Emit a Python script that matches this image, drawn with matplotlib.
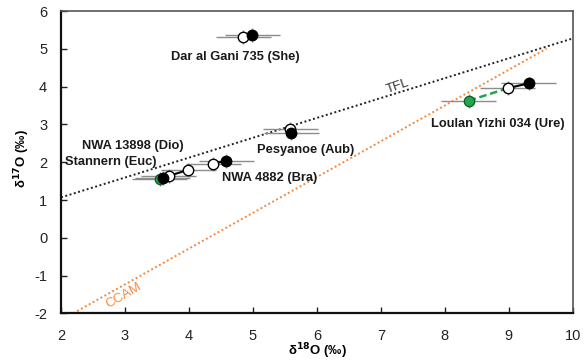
import matplotlib
matplotlib.use("Agg")
import matplotlib.pyplot as plt
import numpy as np

plt.rcParams['font.family'] = ['Liberation Sans', 'DejaVu Sans']
plt.rcParams['axes.unicode_minus'] = False

# Reference lines (endpoints)
tfl_x = [2.0, 10.0]
tfl_y = [1.07, 5.28]
ccam_x = [2.19, 9.59]
ccam_y = [-2.0, 5.01]

# Open circles
open_x = [4.85, 5.58, 3.68, 3.99, 4.38, 8.98]
open_y = [5.31, 2.88, 1.64, 1.80, 1.96, 3.96]
# Filled black circles
fill_x = [4.99, 5.60, 3.59, 4.58, 9.31]
fill_y = [5.37, 2.77, 1.59, 2.04, 4.09]
# Green circles
green_x = [3.54, 8.37]
green_y = [1.56, 3.63]

xerr = 0.43
yerr = 0.18

# connecting segments (solid black)
solid_x0 = [3.59, 4.38, 8.98]
solid_y0 = [1.59, 1.96, 3.96]
solid_x1 = [3.99, 4.58, 9.31]
solid_y1 = [1.80, 2.04, 4.09]
# dashed green segment
dash_x = [8.37, 8.98]
dash_y = [3.63, 3.96]

labels = ["Dar al Gani 735 (She)", "NWA 13898 (Dio)", "Stannern (Euc)",
          "Pesyanoe (Aub)", "NWA 4882 (Bra)", "Loulan Yizhi 034 (Ure)"]
label_x = [4.72, 3.125, 2.06, 5.06, 4.52, 7.78]
label_y = [4.79, 2.43, 2.01, 2.33, 1.58, 3.01]
label_ha = ["center", "center", "left", "left", "left", "left"]

fig = plt.figure(figsize=(5.84, 3.61), dpi=100)
ax = fig.add_axes([0.1045, 0.132, 0.8765, 0.837])

ax.plot(tfl_x, tfl_y, ls=(0, (1, 1.3)), color='#222222', lw=1.4, zorder=1)
ax.plot(ccam_x, ccam_y, ls=(0, (1, 1.3)), color='#f4893c', lw=1.4, zorder=1)

ecol = '#8c8c8c'
for xs, ys in [(open_x, open_y), (fill_x, fill_y), (green_x, green_y)]:
    ax.errorbar(xs, ys, xerr=xerr, yerr=yerr, fmt='none', ecolor=ecol,
                elinewidth=1.0, capsize=0, zorder=2)

for x0, y0, x1, y1 in zip(solid_x0, solid_y0, solid_x1, solid_y1):
    ax.plot([x0, x1], [y0, y1], color='black', lw=1.5, zorder=3)
ax.plot(dash_x, dash_y, color='#1fa64e', lw=1.8, ls=(0, (3, 1.5)), zorder=3)

ax.plot(open_x, open_y, 'o', ms=7.5, mfc='white', mec='black', mew=1.0, ls='none', zorder=4)
ax.plot(green_x, green_y, 'o', ms=7.5, mfc='#1fa64e', mec='#0a5a22', mew=0.9, ls='none', zorder=5)
ax.plot(fill_x, fill_y, 'o', ms=7.5, mfc='black', mec='black', ls='none', zorder=6)

for t, x, y, ha in zip(labels, label_x, label_y, label_ha):
    ax.text(x, y, t, ha=ha, va='center', fontsize=9.3, fontweight='bold', color='#1a1a1a', zorder=7)

ax.text(7.27, 4.0, "TFL", rotation=19, fontsize=9.5, color='#333333', ha='center', va='center')
ax.text(2.98, -1.52, "CCAM", rotation=30, fontsize=9.5, color='#f4893c', ha='center', va='center')

ax.set_xlim(2, 10)
ax.set_ylim(-2, 6)
ax.set_xticks(np.arange(2, 11, 1))
ax.set_yticks(np.arange(-2, 7, 1))
ax.tick_params(direction='in', length=4, width=1.0, labelsize=10.5, colors='#222222')
ax.tick_params(axis='x', pad=11)
ax.tick_params(axis='y', pad=10)
for s in ['left', 'bottom']:
    ax.spines[s].set_linewidth(1.6)
    ax.spines[s].set_color('#111111')
for s in ['top', 'right']:
    ax.spines[s].set_linewidth(1.2)
    ax.spines[s].set_color('#555555')

fig.text(0.543, 0.028, "δ$^{\\mathbf{18}}$O (‰)", fontsize=9.5, fontweight='bold', ha='center', va='center')
fig.text(0.038, 0.56, "δ$^{\\mathbf{17}}$O (‰)", fontsize=9.5, fontweight='bold', ha='center', va='center', rotation=90)

fig.savefig("out.png", dpi=100)
